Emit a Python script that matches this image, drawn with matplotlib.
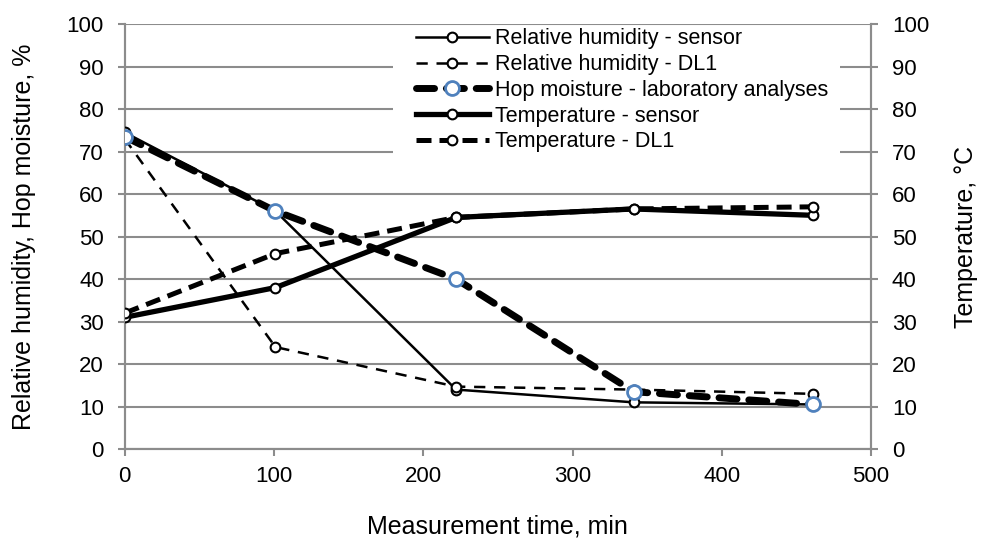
import matplotlib
matplotlib.use("Agg")
import matplotlib.pyplot as plt
from matplotlib.patches import Rectangle

time_min = [0, 101, 222, 341, 461]
rh_sensor = [74.5, 56, 14, 11, 10.5]
rh_dl1 = [73, 24, 14.7, 14, 13]
hop_moisture = [73.5, 56, 40, 13.5, 10.5]
temp_sensor = [31, 38, 54.5, 56.5, 55]
temp_dl1 = [32, 46, 54.5, 56.5, 57]

plt.rcParams['font.family'] = ['Liberation Sans', 'DejaVu Sans']
fs = 16
fl = 18
fig = plt.figure(figsize=(9.82, 5.47), dpi=100)
ax = fig.add_axes([0.127, 0.179, 0.760, 0.777])
ax2 = ax.twinx()

grid_c = '#8c8c8c'
mk = dict(marker='o', markerfacecolor='white', markeredgecolor='black', markersize=7, markeredgewidth=1.5)

l1, = ax.plot(time_min, rh_sensor, color='black', lw=1.8, ls='-', label='Relative humidity - sensor', **mk, zorder=3)
l2, = ax.plot(time_min, rh_dl1, color='black', lw=1.8, ls=(0, (4.5, 3.5)), label='Relative humidity - DL1', **mk, zorder=3)
l4, = ax.plot(time_min, temp_sensor, color='black', lw=3.8, ls='-', label='Temperature - sensor', **mk, zorder=3)
l5, = ax.plot(time_min, temp_dl1, color='black', lw=3.6, ls=(0, (3, 1.6)), label='Temperature - DL1', **mk, zorder=3)
l3, = ax.plot(time_min, hop_moisture, color='black', lw=5, ls=(0, (2.6, 1.7)), dash_capstyle='round',
              marker='o', markerfacecolor='white', markeredgecolor='#4f81bd', markersize=10, markeredgewidth=2,
              label='Hop moisture - laboratory analyses', zorder=4)

ax.set_xlim(0, 500)
ax.set_ylim(0, 100)
ax2.set_ylim(0, 100)
ax.set_xticks(range(0, 501, 100))
ax.set_yticks(range(0, 101, 10))
ax2.set_yticks(range(0, 101, 10))
ax.grid(axis='y', color=grid_c, lw=1.5, zorder=0)
ax.set_axisbelow(True)

for a in (ax, ax2):
    a.spines['top'].set_visible(False)
    for s in ('left', 'right', 'bottom'):
        a.spines[s].set_color(grid_c)
        a.spines[s].set_linewidth(1.5)
    a.tick_params(direction='out', length=5, width=1.5, color=grid_c, labelsize=fs, labelcolor='black')
ax.tick_params(axis='y', pad=10)
ax2.tick_params(axis='y', pad=10)
ax.tick_params(axis='x', pad=7)

ax.set_xlabel('Measurement time, min', fontsize=fl, labelpad=20)
ax.set_ylabel('Relative humidity, Hop moisture, %', fontsize=fl, labelpad=22)
ax2.set_ylabel('Temperature, °C', fontsize=fl, labelpad=18)

ax2.set_zorder(ax.get_zorder() - 1)
ax.patch.set_visible(False)
ax2.patch.set_visible(True)

# white legend background covering gridlines (axes fraction coordinates)
ax.add_patch(Rectangle((0.359, 0.68), 0.6, 0.313, transform=ax.transAxes,
                       facecolor='white', edgecolor='none', zorder=1))

leg = ax.legend([l1, l2, l3, l4, l5],
                [h.get_label() for h in (l1, l2, l3, l4, l5)],
                loc='upper left', bbox_to_anchor=(0.39, 0.99), fontsize=15.5,
                frameon=False, handlelength=3.4, handletextpad=0.3, labelspacing=0.22,
                borderpad=0.0, borderaxespad=0.0)
leg.set_zorder(5)

fig.savefig('out.png', dpi=100)
